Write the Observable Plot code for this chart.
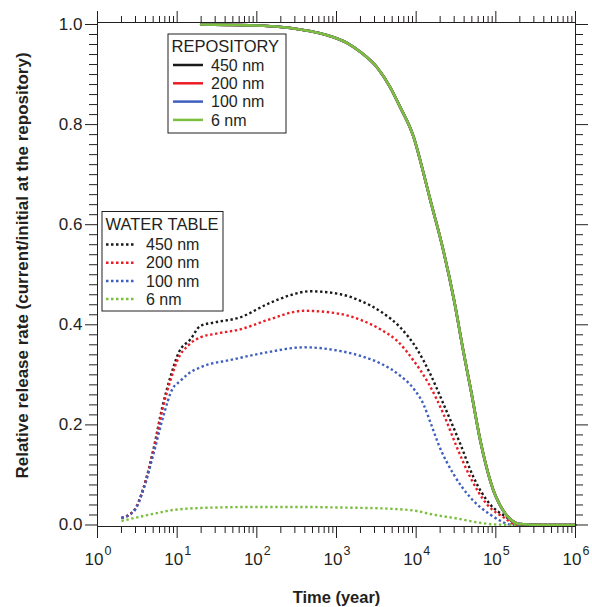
<!DOCTYPE html>
<html>
<head>
<meta charset="utf-8">
<script src="https://cdn.jsdelivr.net/npm/d3@7"></script>
<script src="https://cdn.jsdelivr.net/npm/@observablehq/plot@0.6"></script>
<style>
  html, body { margin: 0; padding: 0; background: #fff; }
  #chart svg { display: block; overflow: visible; }
</style>
</head>
<body>
<div id="chart"></div>
<script>
// ---------- data ----------
const sizes = ["450 nm", "200 nm", "100 nm", "6 nm"];
const colors = ["#1a1a1a", "#ec1c24", "#3f5fbf", "#7cbf3f"];

// Repository (solid) – all four sizes overlap
const repoT = [20, 50, 100, 200, 350, 600, 900, 1400, 2000, 3200, 4700, 6300, 9300, 12500, 15000, 21000, 30000, 39000, 48000, 64000, 100000, 200000, 400000, 1000000];
const repoV = [1.0, 0.999, 0.998, 0.995, 0.99, 0.983, 0.975, 0.962, 0.945, 0.915, 0.875, 0.835, 0.775, 0.70, 0.65, 0.561, 0.448, 0.348, 0.274, 0.168, 0.057, 0.002, 0.0, 0.0];

// Water table (dotted)
const wt450T = [2, 2.85, 3.8, 5.1, 6.5, 8.2, 10.5, 14.7, 19.6, 30, 62, 134, 250, 470, 1120, 2000, 3700, 6300, 10200, 15000, 22000, 36000, 52600, 85000, 138000, 193000, 1000000];
const wt450V = [0.014, 0.028, 0.075, 0.155, 0.235, 0.295, 0.345, 0.371, 0.398, 0.405, 0.415, 0.441, 0.458, 0.467, 0.461, 0.448, 0.425, 0.395, 0.352, 0.302, 0.242, 0.161, 0.095, 0.041, 0.015, 0.0, 0.0];
const wt200T = [2, 2.85, 3.8, 5.1, 6.5, 8.2, 10, 14, 19.6, 30, 62, 134, 388, 1000, 2000, 3550, 5770, 9330, 14400, 22100, 32500, 47900, 77700, 126000, 184000, 1000000];
const wt200V = [0.014, 0.028, 0.075, 0.152, 0.23, 0.288, 0.328, 0.36, 0.375, 0.382, 0.391, 0.409, 0.428, 0.423, 0.41, 0.391, 0.368, 0.328, 0.282, 0.221, 0.155, 0.095, 0.041, 0.015, 0.0, 0.0];
const wt100T = [2, 2.85, 3.8, 5.1, 6.8, 8.6, 11, 14, 19.6, 51, 134, 388, 1000, 2000, 3550, 6330, 9330, 12450, 15500, 19100, 29600, 47900, 85000, 167000, 1000000];
const wt100V = [0.014, 0.027, 0.072, 0.145, 0.221, 0.27, 0.288, 0.303, 0.315, 0.331, 0.345, 0.355, 0.349, 0.338, 0.323, 0.298, 0.272, 0.24, 0.2, 0.161, 0.101, 0.055, 0.021, 0.0, 0.0];
const wt6T = [2, 4.6, 10, 31.6, 100, 400, 1000, 3950, 10200, 15000, 32500, 60000, 100000, 200000, 1000000];
const wt6V = [0.008, 0.021, 0.031, 0.035, 0.036, 0.036, 0.035, 0.033, 0.028, 0.022, 0.013, 0.005, 0.001, 0.0, 0.0];

const decades = [1, 10, 100, 1000, 10000, 100000, 1000000];
const exponents = ["0", "1", "2", "3", "4", "5", "6"];
const yMajor = [0, 0.2, 0.4, 0.6, 0.8, 1.0];

// ---------- build tables ----------
const repo = [];
sizes.forEach((s, i) => repoT.forEach((t, j) => repo.push({size: s, t, v: repoV[j], k: i})));
const wtT = [wt450T, wt200T, wt100T, wt6T];
const wtV = [wt450V, wt200V, wt100V, wt6V];
const wt = [];
sizes.forEach((s, i) => wtT[i].forEach((t, j) => wt.push({size: s, t, v: wtV[i][j], k: i})));

const xMinor = [];
for (let d = 1; d < 1e6; d *= 10) for (let m = 2; m <= 9; m++) xMinor.push(d * m);
const yMinor = d3.range(0, 51).map(i => i / 50).filter(v => Math.round(v * 50) % 10 !== 0);

const font = "'Liberation Sans', Arial, Helvetica, sans-serif";
const ink = "#231f20";
const blank = () => "";

const chart = Plot.plot({
  width: 592,
  height: 607,
  marginLeft: 97,
  marginRight: 17,
  marginTop: 22,
  marginBottom: 81,
  style: {fontFamily: font, color: ink, background: "#fff"},
  x: {type: "log", domain: [1, 1e6]},
  y: {domain: [-0.003, 1.004]},
  color: {domain: sizes, range: colors},
  marks: [
    // water table dotted
    ...sizes.map((s, i) => Plot.line(wt.filter(d => d.k === i), {
      x: "t", y: "v", stroke: colors[i], strokeWidth: 2.4, strokeDasharray: "2.4,2.6",
      strokeLinecap: "butt", curve: "monotone-x"
    })),
    // repository solid
    ...sizes.map((s, i) => Plot.line(repo.filter(d => d.k === i), {
      x: "t", y: "v", stroke: colors[i], strokeWidth: 2.6, curve: "monotone-x"
    })),
    Plot.frame({stroke: ink, strokeWidth: 1}),
    // axes
    Plot.axisY({ticks: yMajor, tickSize: 12, tickFormat: ".1f", fontSize: 17, tickPadding: 3, stroke: ink, label: null}),
    Plot.axisY({ticks: yMinor, tickSize: 8, tickFormat: blank, stroke: ink, label: null}),
    Plot.axisY({anchor: "right", ticks: yMajor, tickSize: 12, tickFormat: blank, stroke: ink, label: null}),
    Plot.axisY({anchor: "right", ticks: yMinor, tickSize: 7, tickFormat: blank, stroke: ink, label: null}),
    Plot.axisX({ticks: decades, tickSize: 12, tickFormat: blank, stroke: ink, label: null}),
    Plot.axisX({ticks: xMinor, tickSize: 7, tickFormat: blank, stroke: ink, label: null}),
    Plot.axisX({anchor: "top", ticks: decades, tickSize: 12, tickFormat: blank, stroke: ink, label: null}),
    Plot.axisX({anchor: "top", ticks: xMinor, tickSize: 7, tickFormat: blank, stroke: ink, label: null}),
    // x tick labels with superscripts
    Plot.text(decades, {x: d => d, frameAnchor: "bottom", text: () => "10", dx: -3.5, dy: 38, lineAnchor: "bottom", fontSize: 17, fill: ink}),
    Plot.text(decades, {x: d => d, frameAnchor: "bottom", text: (d, i) => exponents[i], dx: 7, dy: 28, lineAnchor: "bottom", textAnchor: "start", fontSize: 12.5, fill: ink}),
    // axis titles
    Plot.text(["Time (year)"], {frameAnchor: "bottom", dy: 76, lineAnchor: "bottom", fontSize: 16.5, fontWeight: "bold", fill: ink}),
    Plot.text(["Relative release rate (current/initial at the repository)"], {frameAnchor: "left", dx: -75, dy: -9, rotate: -90, textAnchor: "middle", fontSize: 17, fontWeight: "bold", fill: ink})
  ]
});
document.getElementById("chart").appendChild(chart);

// ---------- legends ----------
const svg = d3.select(chart);
function legend(x, y, w, h, title, titleY, rows0, rowStep, lx0, lx1, tx, dashed) {
  const g = svg.append("g").attr("font-family", font).attr("fill", ink).attr("text-anchor", "start");
  g.append("rect").attr("x", x).attr("y", y).attr("width", w).attr("height", h)
    .attr("fill", "#fff").attr("stroke", ink).attr("stroke-width", 1);
  g.append("text").attr("x", x + 3.5).attr("y", titleY).attr("dy", "0.35em")
    .attr("text-anchor", "start").attr("font-size", 16.5).text(title);
  sizes.forEach((s, i) => {
    const yy = rows0 + i * rowStep;
    const ln = g.append("line").attr("x1", lx0).attr("x2", lx1).attr("y1", yy).attr("y2", yy)
      .attr("stroke", colors[i]).attr("stroke-width", 2.5);
    if (dashed) ln.attr("stroke-dasharray", "2.5,2.5");
    g.append("text").attr("x", tx).attr("y", yy).attr("dy", "0.35em")
      .attr("text-anchor", "start").attr("font-size", 16).text(s);
  });
}
legend(168, 34, 118, 99, "REPOSITORY", 46, 65, 18.3, 173, 203, 211, false);
legend(102, 211.5, 121, 99.5, "WATER TABLE", 224.5, 244.5, 18.2, 106, 134, 146, true);
</script>
</body>
</html>
